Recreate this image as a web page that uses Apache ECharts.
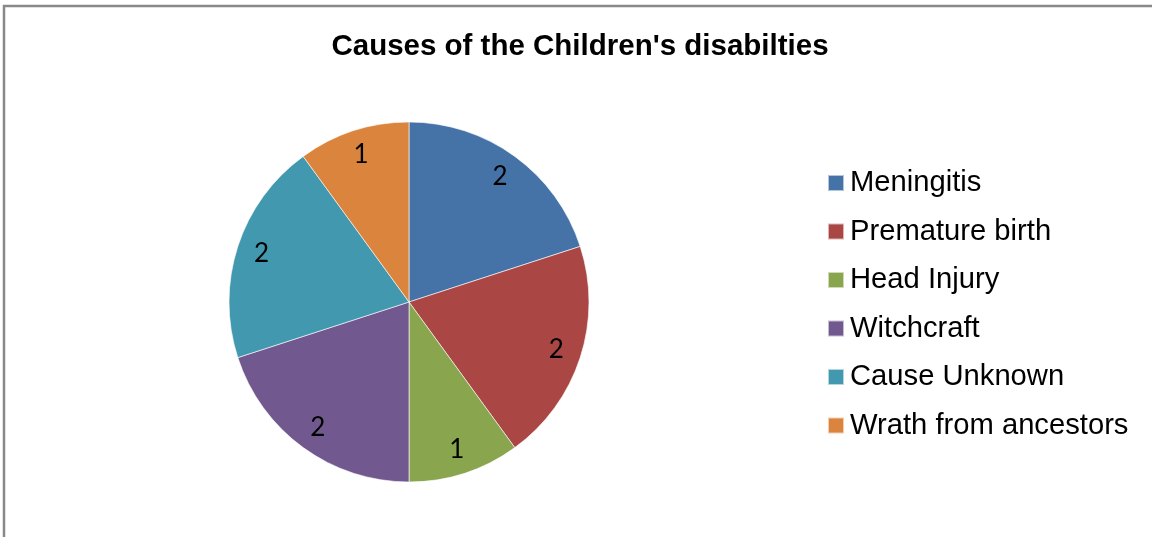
<!DOCTYPE html>
<html>
<head>
<meta charset="utf-8">
<script src="https://cdn.jsdelivr.net/npm/echarts@6/dist/echarts.min.js"></script>
<style>
html,body{margin:0;padding:0;background:#fff;}
#chart{width:1152px;height:537px;}
</style>
</head>
<body>
<div id="chart"></div>
<script>
const titleText = "Causes of the Children's disabilties";
const categories = ["Meningitis", "Premature birth", "Head Injury", "Witchcraft", "Cause Unknown", "Wrath from ancestors"];
const values = [2, 2, 1, 2, 2, 1];
const colors = ["#4572A7", "#AA4643", "#89A54E", "#71588F", "#4198AF", "#DB843D"];

const pieData = categories.map((c, i) => ({ name: c, value: values[i], itemStyle: { color: colors[i] } }));
const labelData = categories.map((c, i) => ({ name: c, value: values[i] }));

const chart = echarts.init(document.getElementById('chart'), null, { renderer: 'canvas' });
chart.setOption({
  animation: false,
  backgroundColor: '#fff',
  graphic: [{
    type: 'rect', silent: true, z: 100,
    shape: { x: 4, y: 6, width: 2000, height: 2000 },
    style: { fill: 'none', stroke: '#898989', lineWidth: 2.5 }
  }],
  title: {
    text: titleText,
    left: 580, top: 32, textAlign: 'center', padding: 0,
    textStyle: { fontFamily: 'Liberation Sans', fontWeight: 'bold', fontSize: 29.5, color: '#000', lineHeight: 30 }
  },
  legend: {
    orient: 'vertical',
    left: 827, top: 168, padding: 0,
    icon: 'rect', itemWidth: 16, itemHeight: 16, itemGap: 18.5,
    selectedMode: false,
    data: categories,
    textStyle: { fontFamily: 'Liberation Sans', fontSize: 29.2, color: '#000', lineHeight: 30, padding: [0, 0, 0, 1] }
  },
  series: [{
    type: 'pie',
    center: [409, 302], radius: [0, 180],
    startAngle: 90, clockwise: true,
    silent: true,
    label: { show: false }, labelLine: { show: false },
    itemStyle: { borderColor: 'rgba(255,255,255,0.6)', borderWidth: 1 },
    emphasis: { disabled: true },
    data: pieData
  }, {
    type: 'pie',
    center: [409, 302], radius: [124, 180],
    startAngle: 90, clockwise: true,
    silent: true,
    itemStyle: { color: 'rgba(0,0,0,0)' },
    label: { show: true, position: 'inside', formatter: '{c}', fontFamily: 'Lato', fontSize: 26, color: '#000' },
    labelLine: { show: false },
    emphasis: { disabled: true },
    data: labelData
  }]
});
</script>
</body>
</html>
